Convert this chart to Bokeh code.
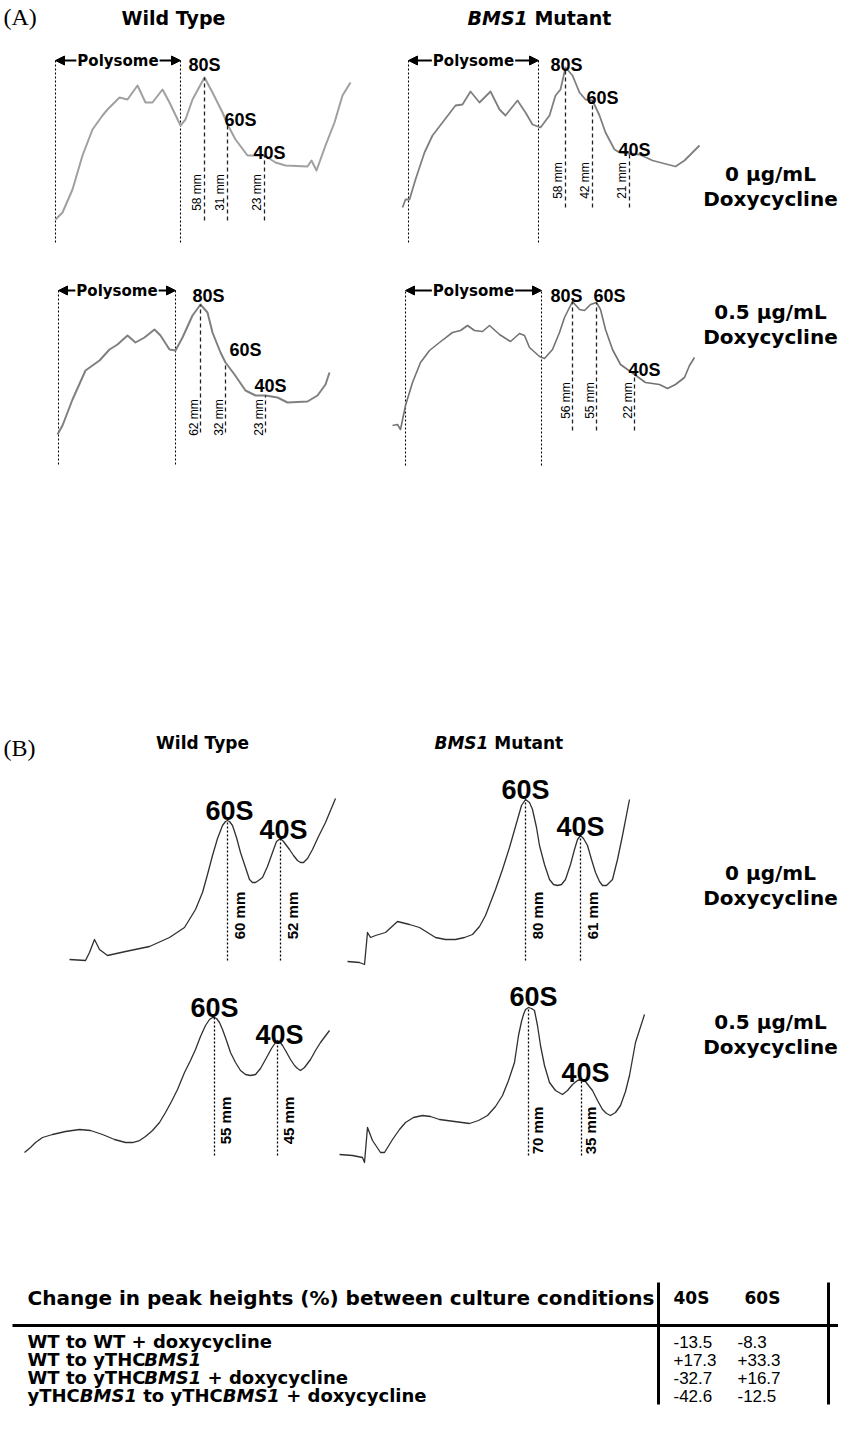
import math
from bokeh.plotting import figure
from bokeh.models import Range1d, Arrow, NormalHead
from bokeh.core.properties import value
from bokeh.embed import file_html
from bokeh.resources import INLINE

# ======================= DATA =======================
# (A) polysome profiles: gradient position (a.u.) and A254 (a.u.)
a_wt_0_pos = [3,10,20,30,40,50,55,67,75,85,93,100,110,117,128,133,140,152,160,170,175,183,195,212,223,233,255,259,264,273,282,290,298]
a_wt_0_abs = [3,10,33,67,93,107,113,125,123,137,120,120,133,120,97,103,123,145,130,110,98,83,67,67,60,57,56,62,52,77,100,127,140]
a_wt_0_peak_pos = [152, 175, 212]
a_wt_0_peak_abs = [145, 98, 67]
a_wt_0_heights_mm = [58, 31, 23]
a_wt_0_polysome = [3, 128]

a_bms_0_pos = [0,3,7,13,22,30,40,53,60,68,77,88,97,103,115,123,130,138,147,153,158,163,170,177,183,190,197,203,212,217,227,237,250,273,282,290,297]
a_bms_0_abs = [15,23,23,43,70,87,100,117,118,131,120,131,113,107,122,110,98,95,107,127,133,155,147,130,123,122,107,90,73,70,69,68,62,56,62,70,77]
a_bms_0_peak_pos = [163, 190, 227]
a_bms_0_peak_abs = [155, 122, 69]
a_bms_0_heights_mm = [58, 42, 21]
a_bms_0_polysome = [6, 136]

a_wt_05_pos = [5,10,20,33,47,57,65,75,83,92,102,108,117,123,130,140,148,155,160,168,173,182,193,203,213,225,235,255,265,273,277]
a_wt_05_abs = [3,12,38,67,77,88,93,102,95,100,108,102,88,87,100,122,133,125,105,85,75,63,47,42,42,40,35,36,42,53,65]
a_wt_05_peak_pos = [148, 173, 213]
a_wt_05_peak_abs = [133, 75, 42]
a_wt_05_heights_mm = [62, 32, 23]
a_wt_05_polysome = [6, 123]

a_bms_05_pos = [0,5,8,13,20,28,37,47,60,68,75,82,90,97,107,118,127,132,137,147,152,160,167,172,180,187,192,198,204,208,213,220,228,235,242,253,267,275,283,292,297,302]
a_bms_05_abs = [12,13,8,32,55,75,87,95,105,107,112,107,106,112,103,96,104,102,90,81,79,88,105,120,136,128,127,133,135,128,108,88,73,68,63,55,53,49,53,60,72,80]
a_bms_05_peak_pos = [180, 204, 242]
a_bms_05_peak_abs = [136, 135, 63]
a_bms_05_heights_mm = [56, 55, 22]
a_bms_05_polysome = [13, 149]

a_peak_names = ["80S", "60S", "40S"]

# (B) ribosomal subunit profiles
b_wt_0_pos = [2,18,22,27,32,40,58,82,102,117,128,135,140,145,150,155,158,160,162,165,169,173,178,182,185,188,191,195,200,205,209,213,216,222,226,230,233,236,240,245,251,258,268]
b_wt_0_abs = [3,2,10,23,13,7,11,16,25,35,53,70,88,107,124,137,141,142,141,137,125,110,95,83,80,80,82,85,96,110,121,124,121,113,107,102,100,100,104,113,126,140,164]
b_wt_0_peak_pos = [160, 213]
b_wt_0_peak_abs = [142, 124]
b_wt_0_heights_mm = [60, 52]

b_bms_0_pos = [0,12,17,20,23,28,38,50,62,72,80,88,98,108,117,125,132,138,143,148,155,162,170,174,178,182,185,189,192,197,202,206,210,214,218,223,227,230,233,236,240,244,248,252,255,259,265,270,275,282]
b_bms_0_abs = [1,0,-2,30,25,27,30,41,38,35,30,25,23,23,25,28,36,47,60,73,93,115,143,157,163,160,153,135,117,98,83,78,77,78,83,98,113,123,127,124,117,103,90,81,77,77,83,103,127,163]
b_bms_0_peak_pos = [178, 233]
b_bms_0_peak_abs = [163, 127]
b_bms_0_heights_mm = [80, 61]

b_wt_05_pos = [2,8,13,20,30,43,57,68,80,92,103,110,117,123,130,137,143,149,155,162,168,173,178,183,187,190,192,194,197,200,204,208,213,218,223,228,233,238,243,249,253,255,257,260,263,268,272,275,278,282,288,293,298,307]
b_wt_05_abs = [5,10,15,20,23,26,28,27,23,18,15,15,17,21,27,35,45,56,68,85,97,108,121,132,138,140,140,139,135,128,117,105,95,87,83,82,83,89,98,109,115,117,116,112,107,98,92,89,87,90,98,107,115,127]
b_wt_05_peak_pos = [192, 255]
b_wt_05_peak_abs = [140, 117]
b_wt_05_heights_mm = [55, 45]

b_bms_05_pos = [2,15,25,27,30,35,43,47,55,62,68,76,85,93,102,117,132,141,150,158,165,171,177,181,184,186,188,191,194,197,200,203,207,212,218,225,230,235,240,244,248,251,255,260,265,269,273,278,283,288,292,298,307]
b_bms_05_abs = [3,2,0,-5,30,17,5,5,18,28,35,40,42,41,38,36,34,37,42,51,62,77,95,122,136,143,148,150,149,147,132,112,92,75,67,63,67,73,77,78,76,72,67,57,48,44,42,45,52,66,82,115,143]
b_bms_05_peak_pos = [191, 244]
b_bms_05_peak_abs = [150, 78]
b_bms_05_heights_mm = [70, 35]

b_peak_names = ["60S", "40S"]

# Table
table_title = "Change in peak heights (%) between culture conditions"
table_cols = ["40S", "60S"]
table_rows = [
    [("WT to WT + doxycycline", False)],
    [("WT to yTHC", False), ("BMS1", True)],
    [("WT to yTHC", False), ("BMS1", True), (" + doxycycline", False)],
    [("yTHC", False), ("BMS1", True), (" to yTHC", False), ("BMS1", True), (" + doxycycline", False)],
]
change_40s = [-13.5, 17.3, -32.7, -42.6]
change_60s = [-8.3, 33.3, 16.7, -12.5]

# ======================= LAYOUT =======================
PX0, PX1, PY0, PY1 = 8, 846, 8, 1436
p = figure(width=PX1 - PX0, height=PY1 - PY0, output_backend="svg", toolbar_location=None,
           x_range=Range1d(PX0, PX1), y_range=Range1d(PY1, PY0),
           x_axis_location=None, y_axis_location=None, min_border=0)
p.grid.visible = False
p.outline_line_color = None
p.background_fill_color = "white"
p.border_fill_color = "white"

DJB = {' ': .348, 'B': .762, 'M': .994, 'S': .721, '1': .696, 'u': .712, 't': .478, 'a': .675,
       'n': .712, 'W': 1.035, 'T': .682, 'o': .687, 'y': .652, 'H': .838, 'C': .735, '+': .838,
       'd': .716, 'x': .652, 'c': .593, 'l': .343, 'i': .343, 'e': .678, 'P': .733, 's': .595,
       'm': 1.042}

def tw(s, size):
    return sum(DJB.get(c, .65) for c in s) * size

def page_text(x, y, t, size, font="DejaVu Sans", style="bold", align="left", baseline="middle"):
    p.text(x=[x], y=[y], text=[t], text_font=value(font), text_font_style=style,
           text_font_size=f"{size}px", text_align=align, text_baseline=baseline, text_color="black")

def styled_line(x, y, segments, size):
    cx = x
    for s, it in segments:
        lead = len(s) - len(s.lstrip(' '))
        cx += lead * DJB[' '] * size
        core = s.strip(' ')
        page_text(cx, y, core, size, style="bold italic" if it else "bold")
        cx += tw(core, size)

panels_a = [
    dict(key="a1", X0=60, Y0=230, pos=a_wt_0_pos, ab=a_wt_0_abs, pk=a_wt_0_peak_pos, pa=a_wt_0_peak_abs,
         mm=a_wt_0_heights_mm, poly=a_wt_0_polysome, base=2, mm_y=30, mm_dx=-8, top=162, bot=-20,
         ldx=[0, 13, 5], ldy=[-13, -5, -3], color="#a0a0a0", lw=2.0),
    dict(key="a2", X0=410, Y0=230, pos=a_bms_0_pos, ab=a_bms_0_abs, pk=a_bms_0_peak_pos, pa=a_bms_0_peak_abs,
         mm=a_bms_0_heights_mm, poly=a_bms_0_polysome, base=15, mm_y=42, mm_dx=-8, top=162, bot=-20,
         ldx=[1, 10, 5], ldy=[-3, -3, -4], color="#808080", lw=1.8),
    dict(key="a3", X0=60, Y0=445, pos=a_wt_05_pos, ab=a_wt_05_abs, pk=a_wt_05_peak_pos, pa=a_wt_05_peak_abs,
         mm=a_wt_05_heights_mm, poly=a_wt_05_polysome, base=5, mm_y=20, mm_dx=-7, top=147, bot=-27,
         ldx=[8, 20, 5], ldy=[-9, -13, -10], color="#808080", lw=2.0),
    dict(key="a4", X0=400, Y0=445, pos=a_bms_05_pos, ab=a_bms_05_abs, pk=a_bms_05_peak_pos, pa=a_bms_05_peak_abs,
         mm=a_bms_05_heights_mm, poly=a_bms_05_polysome, base=7, mm_y=37, mm_dx=-7, top=147, bot=-28,
         ldx=[-6, 13, 10], ldy=[-6, -7, -5], color="#737373", lw=1.6),
]
panels_b = [
    dict(key="b1", X0=75, Y0=970, pos=b_wt_0_pos, ab=b_wt_0_abs, pk=b_wt_0_peak_pos, pa=b_wt_0_peak_abs,
         mm=b_wt_0_heights_mm, base=2, mm_y=47, mm_dx=12, ldx=[2, 3], ldy=[-10, -9]),
    dict(key="b2", X0=355, Y0=970, pos=b_bms_0_pos, ab=b_bms_0_abs, pk=b_bms_0_peak_pos, pa=b_bms_0_peak_abs,
         mm=b_bms_0_heights_mm, base=2, mm_y=47, mm_dx=12, ldx=[0, 0], ldy=[-10, -9]),
    dict(key="b3", X0=30, Y0=1165, pos=b_wt_05_pos, ab=b_wt_05_abs, pk=b_wt_05_peak_pos, pa=b_wt_05_peak_abs,
         mm=b_wt_05_heights_mm, base=2, mm_y=37, mm_dx=11, ldx=[0, 2], ldy=[-10, -6]),
    dict(key="b4", X0=345, Y0=1165, pos=b_bms_05_pos, ab=b_bms_05_abs, pk=b_bms_05_peak_pos, pa=b_bms_05_peak_abs,
         mm=b_bms_05_heights_mm, base=2, mm_y=27, mm_dx=9, ldx=[5, 4], ldy=[-11, -7]),
]

xr, yr = {}, {}
for P in panels_a + panels_b:
    xr[P["key"]] = Range1d(PX0 - P["X0"], PX1 - P["X0"])
    yr[P["key"]] = Range1d(P["Y0"] - PY1, P["Y0"] - PY0)
p.extra_x_ranges = xr
p.extra_y_ranges = yr

def draw_common(P, names, dash, dash_w, dash_color, pk_size, mm_style, mm_size, curve_color, curve_w):
    k = P["key"]
    rk = dict(x_range_name=k, y_range_name=k)
    n = len(P["pk"])
    p.line(P["pos"], P["ab"], line_color=curve_color, line_width=curve_w, line_join="round", **rk)
    p.segment(x0=P["pk"], y0=[P["base"]] * n, x1=P["pk"], y1=P["pa"], line_color=dash_color,
              line_width=dash_w, line_dash=dash, **rk)
    p.text(x=P["pk"], y=P["pa"], text=names, x_offset=P["ldx"], y_offset=P["ldy"],
           text_font=value("Liberation Sans"), text_font_style="bold", text_font_size=f"{pk_size}px",
           text_align="center", text_baseline="alphabetic", text_color="black", **rk)
    p.text(x=P["pk"], y=[P["mm_y"]] * n, text=[f"{h} mm" for h in P["mm"]], angle=math.pi / 2,
           x_offset=P["mm_dx"], text_font=value("Liberation Sans"), text_font_style=mm_style,
           text_font_size=f"{mm_size}px", text_align="center", text_baseline="middle",
           text_color="black", **rk)

for P in panels_a:
    k = P["key"]
    rk = dict(x_range_name=k, y_range_name=k)
    b0, b1 = P["poly"]
    p.segment(x0=[b0, b1], y0=[P["bot"]] * 2, x1=[b0, b1], y1=[P["top"]] * 2,
              line_color="black", line_width=1.1, line_dash="2 2", **rk)
    mid = (b0 + b1) / 2
    hw = tw("Polysome", 15) / 2 + 1
    for xs, xe in ((mid - hw, b0), (mid + hw, b1)):
        p.add_layout(Arrow(end=NormalHead(size=9, fill_color="black", line_color="black", line_width=1),
                           x_start=xs, y_start=P["top"], x_end=xe, y_end=P["top"],
                           line_color="black", line_width=2, **rk))
    p.text(x=[mid], y=[P["top"]], text=["Polysome"], text_font=value("DejaVu Sans"),
           text_font_style="bold", text_font_size="15px", text_align="center",
           text_baseline="middle", text_color="black", **rk)
    draw_common(P, a_peak_names, "4 3", 1.3, "#222222", 18, "normal", 12, P["color"], P["lw"])

for P in panels_b:
    draw_common(P, b_peak_names, "2 2", 1.3, "black", 27, "bold", 15, "#303030", 1.3)

# ---- titles and labels ----
page_text(11, 24, "(A)", 24, font="Liberation Serif", style="normal")
page_text(11, 755, "(B)", 24, font="Liberation Serif", style="normal")
page_text(181, 25, "Wild Type", 19, align="center")
styled_line(475, 25, [("BMS1", True), (" Mutant", False)], 19)
page_text(210, 750, "Wild Type", 17, align="center")
styled_line(442, 750, [("BMS1", True), (" Mutant", False)], 17)

for yy, lines in ((181, ("0 µg/mL", "Doxycycline")), (319, ("0.5 µg/mL", "Doxycycline")),
                  (880, ("0 µg/mL", "Doxycycline")), (1029, ("0.5 µg/mL", "Doxycycline"))):
    page_text(778, yy, lines[0], 20, align="center")
    page_text(778, yy + 25, lines[1], 20, align="center")

# ---- table ----
row_y = [1349, 1367, 1385, 1403]
page_text(35, 1305, table_title, 20)
page_text(681, 1305, table_cols[0], 17)
page_text(752, 1305, table_cols[1], 17)
for yy, segs in zip(row_y, table_rows):
    styled_line(35, yy, segs, 18)
p.text(x=[681] * 4, y=row_y, text=[f"{v:+.1f}" for v in change_40s], text_font=value("Liberation Sans"),
       text_font_size="17px", text_align="left", text_baseline="middle", text_color="black")
p.text(x=[745] * 4, y=row_y, text=[f"{v:+.1f}" for v in change_60s], text_font=value("Liberation Sans"),
       text_font_size="17px", text_align="left", text_baseline="middle", text_color="black")
p.segment(x0=[666, 836], y0=[1290, 1290], x1=[666, 836], y1=[1412, 1412], line_color="black", line_width=3)
p.segment(x0=[20], y0=[1333], x1=[846], y1=[1333], line_color="black", line_width=3)

open("out.html", "w").write(file_html(p, INLINE))
